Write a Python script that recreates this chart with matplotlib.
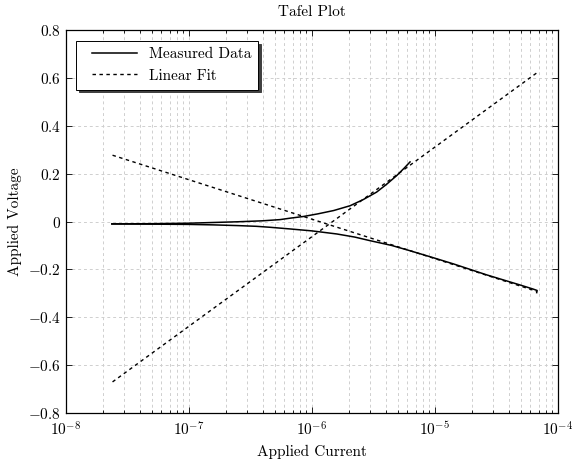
import numpy as np
import matplotlib
matplotlib.use("Agg")
import matplotlib.pyplot as plt
from matplotlib.lines import Line2D
from matplotlib.legend_handler import HandlerLine2D
from matplotlib.ticker import LogLocator, FuncFormatter, MultipleLocator

# Measured data, anodic branch (current in A, voltage in V)
anodic_current = [2.37e-8, 5.01e-8, 1.00e-7, 1.58e-7, 2.51e-7, 3.98e-7, 5.52e-7,
                  6.67e-7, 8.55e-7, 1.12e-6, 1.51e-6, 2.05e-6, 2.63e-6, 3.37e-6,
                  4.07e-6, 4.91e-6, 5.62e-6, 6.30e-6]
anodic_voltage = [-0.010, -0.009, -0.007, -0.004, -0.001, 0.003, 0.008,
                  0.014, 0.021, 0.032, 0.046, 0.066, 0.092, 0.123,
                  0.156, 0.192, 0.222, 0.249]

# Measured data, cathodic branch
cathodic_current = [2.37e-8, 5.01e-8, 1.00e-7, 1.58e-7, 2.51e-7, 3.55e-7, 4.58e-7,
                    6.67e-7, 1.00e-6, 1.60e-6, 2.24e-6, 2.98e-6, 4.47e-6, 6.30e-6,
                    1.00e-5, 1.42e-5, 2.65e-5, 4.94e-5, 6.30e-5, 6.80e-5, 6.75e-5]
cathodic_voltage = [-0.010, -0.011, -0.012, -0.014, -0.017, -0.020, -0.024,
                    -0.031, -0.039, -0.052, -0.065, -0.080, -0.100, -0.122,
                    -0.153, -0.177, -0.223, -0.265, -0.282, -0.288, -0.297]

# Linear (Tafel) fits
fit_current = [2.4e-8, 6.8e-5]
anodic_fit = [-0.670, 0.622]
cathodic_fit = [0.277, -0.292]

plt.rcParams['font.family'] = 'serif'
plt.rcParams['font.serif'] = ['cmr10', 'DejaVu Serif']
plt.rcParams['mathtext.fontset'] = 'cm'
plt.rcParams['axes.formatter.use_mathtext'] = True
plt.rcParams['font.size'] = 11

fig = plt.figure(figsize=(5.72, 4.62), dpi=100)
ax = fig.add_axes([0.115, 0.106, 0.860, 0.829])

ax.plot(anodic_current, anodic_voltage, color='black', lw=1.1, label='Measured Data')
ax.plot(cathodic_current, cathodic_voltage, color='black', lw=1.1)
ax.plot(fit_current, anodic_fit, color='black', lw=1.0, ls=(0, (2.5, 2.5)), label='Linear Fit')
ax.plot(fit_current, cathodic_fit, color='black', lw=1.0, ls=(0, (2.5, 2.5)))

ax.set_xscale('log')
ax.set_xlim(1e-8, 1e-4)
ax.set_ylim(-0.8, 0.8)
ax.xaxis.set_major_locator(LogLocator(base=10, numticks=10))
ax.xaxis.set_minor_locator(LogLocator(base=10, subs=np.arange(2, 10), numticks=20))
ax.yaxis.set_major_locator(MultipleLocator(0.2))

def yfmt(v, pos):
    if abs(v) < 1e-9:
        return r'$0$'
    return r'$%s$' % ('%.1f' % v)

ax.yaxis.set_major_formatter(FuncFormatter(yfmt))

ax.tick_params(which='both', direction='in', top=True, right=True, width=0.6, labelsize=11)
ax.tick_params(which='major', length=4)
ax.tick_params(which='minor', length=2.5)
ax.tick_params(axis='x', which='major', pad=5)

ax.grid(which='both', axis='x', color='#cfcfcf', lw=0.7, ls=(0, (3, 3)))
ax.grid(which='major', axis='y', color='#cfcfcf', lw=0.7, ls=(0, (3, 3)))
ax.set_axisbelow(True)
for s in ax.spines.values():
    s.set_linewidth(0.9)

ax.set_title('Tafel Plot', fontsize=11, pad=10)
ax.set_xlabel('Applied Current', fontsize=11, labelpad=5)
ax.set_ylabel('Applied Voltage', fontsize=11, labelpad=4)

# pgfplots-like legend: short inset line, dark drop shadow
leg = ax.legend(loc='upper left', fancybox=False, framealpha=1, edgecolor='black',
                shadow={'color': '#404040', 'alpha': 1}, fontsize=11,
                handlelength=3.5, borderpad=0.45, borderaxespad=0.7,
                handler_map={Line2D: HandlerLine2D(xpad=0.55)})
leg.get_frame().set_linewidth(0.7)

fig.savefig('out.png', dpi=100)
